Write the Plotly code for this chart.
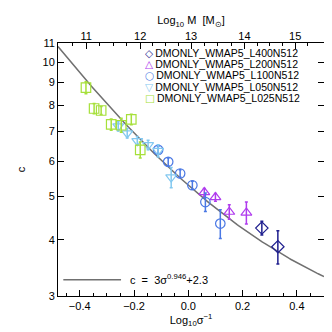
import numpy as np
import plotly.graph_objects as go

# x = log10(1/sigma), y = concentration c, err = 1-sigma error on c
l400_x = [0.271, 0.330]
l400_c = [4.25, 3.86]
l400_err = [0.15, 0.33]

l200_x = [0.059, 0.100, 0.151, 0.214]
l200_c = [5.11, 4.98, 4.62, 4.60]
l200_err = [0.10, 0.10, 0.17, 0.26]

l100_x = [-0.111, -0.074, -0.030, 0.015, 0.063, 0.118]
l100_c = [6.36, 5.98, 5.63, 5.30, 4.86, 4.35]
l100_err = [0.12, 0.12, 0.11, 0.11, 0.23, 0.32]

l050_x = [-0.258, -0.225, -0.188, -0.148, -0.111, -0.063]
l050_c = [7.18, 6.93, 6.66, 6.52, 6.33, 5.52]
l050_err = [0.17, 0.17, 0.15, 0.16, 0.20, 0.29]

l025_x = [-0.377, -0.347, -0.321, -0.284, -0.247, -0.210, -0.177]
l025_c = [8.76, 7.87, 7.79, 7.25, 7.22, 7.44, 6.36]
l025_err = [0.27, 0.21, 0.16, 0.21, 0.26, 0.20, 0.26]

# fit c = A * sigma^B + C
fit_a, fit_b, fit_c = 3.0, 0.946, 2.3

# top axis: log10 M labels and where they sit on the log10(1/sigma) axis
mass_labels = [11, 12, 13, 14, 15]
mass_pos = [-0.376, -0.177, 0.010, 0.207, 0.394]

c_ticks = [3, 4, 5, 6, 7, 8, 9, 10, 11]

series = [
    ("DMONLY_WMAP5_L400N512", l400_x, l400_c, l400_err, "#1f1f8f", "diamond-open", "\u25c7"),
    ("DMONLY_WMAP5_L200N512", l200_x, l200_c, l200_err, "#b03cee", "triangle-up-open", "\u25b3"),
    ("DMONLY_WMAP5_L100N512", l100_x, l100_c, l100_err, "#4a78e4", "circle-open", "\u25cb"),
    ("DMONLY_WMAP5_L050N512", l050_x, l050_c, l050_err, "#82c8f0", "triangle-down-open", "\u25bd"),
    ("DMONLY_WMAP5_L025N512", l025_x, l025_c, l025_err, "#a6e03a", "square-open", "\u25a1"),
]

font = "Liberation Sans, Arial, sans-serif"
fig = go.Figure()

# fit curve
xs = np.linspace(-0.48, 0.5, 200)
sig = 10 ** (-xs)
fig.add_trace(go.Scatter(x=xs, y=fit_a * sig ** fit_b + fit_c, mode="lines",
                         line=dict(color="#707070", width=1.5), showlegend=False,
                         hoverinfo="skip"))

for name, x, c, err, color, sym, glyph in series:
    fig.add_trace(go.Scatter(
        x=x, y=c, mode="markers", name=name, showlegend=False,
        marker=dict(symbol=sym, size=9.5, color=color, line=dict(width=1.2, color=color)),
        error_y=dict(type="data", array=err, color=color, thickness=1.5, width=1.5),
    ))

# empty trace to create the top axis
fig.add_trace(go.Scatter(x=[None], y=[None], xaxis="x2", showlegend=False, hoverinfo="skip"))

# minor tick positions on the mass axis
mass_minor = []
for i in range(len(mass_pos) - 1):
    step = (mass_pos[i + 1] - mass_pos[i]) / 4
    mass_minor += [mass_pos[i] + k * step for k in (1, 2, 3)]
mass_minor.append(mass_pos[0] - (mass_pos[1] - mass_pos[0]) / 4)
mass_minor.append(mass_pos[-1] + (mass_pos[-1] - mass_pos[-2]) / 4)

# hand made legend, one row per box
leg_y = [0.960, 0.915, 0.870, 0.825, 0.780]
annotations = []
for (name, x, c, err, color, sym, glyph), ly in zip(series, leg_y):
    annotations.append(dict(
        xref="paper", yref="paper", x=0.325, y=ly, xanchor="left", yanchor="middle",
        showarrow=False, height=11, borderpad=0, valign="bottom",
        text=f'<span style="color:{color};font-family:DejaVu Sans">{glyph}</span>\u2009{name}',
        font=dict(family=font, size=10.5, color="black")))
annotations.append(dict(xref="paper", yref="paper", x=0.262, y=0.066, xanchor="left",
                        yanchor="middle", showarrow=False,
                        text="c  =  3\u03c3<sup>0.946</sup>+2.3",
                        font=dict(family=font, size=11, color="black")))

fig.update_layout(
    width=332, height=332,
    margin=dict(l=50, r=16, t=32, b=44),
    paper_bgcolor="white", plot_bgcolor="white",
    font=dict(family=font, size=11, color="black"),
    annotations=annotations,
    shapes=[dict(type="line", xref="paper", yref="paper", x0=0.02, x1=0.237,
                 y0=0.064, y1=0.064, line=dict(color="#707070", width=1.5))],
    xaxis=dict(range=[-0.48, 0.5], tickvals=[-0.4, -0.2, 0.0, 0.2, 0.4],
               ticktext=["\u22120.4", "\u22120.2", "0.0", "0.2", "0.4"],
               ticks="inside", ticklen=6, tickcolor="black", showline=True,
               linecolor="black", linewidth=1, mirror=True, showgrid=False,
               zeroline=False,
               minor=dict(ticks="inside", ticklen=3, dtick=0.05, tick0=0, tickcolor="black"),
               title=dict(text="Log<sub>10</sub>\u03c3<sup>\u22121</sup>", standoff=4,
                          font=dict(size=11))),
    xaxis2=dict(overlaying="x", side="top", range=[-0.48, 0.5], tickmode="array",
                tickvals=mass_pos, ticktext=[str(m) for m in mass_labels],
                ticks="inside", ticklen=6, tickcolor="black", showgrid=False,
                zeroline=False, showline=False,
                minor=dict(ticks="inside", ticklen=3, tickmode="array",
                           tickvals=mass_minor, tickcolor="black"),
                title=dict(text="Log<sub>10</sub> M  [M<sub>\u2299</sub>]", standoff=2,
                           font=dict(size=11))),
    yaxis=dict(type="log", range=[np.log10(2.995), np.log10(11.03)],
               tickvals=c_ticks, ticktext=[str(v) for v in c_ticks],
               ticks="inside", ticklen=6, tickcolor="black", showline=True,
               linecolor="black", linewidth=1, mirror="ticks", showgrid=False,
               zeroline=False, title=dict(text="c", standoff=14, font=dict(size=11))),
)

fig.write_html("out.html")
